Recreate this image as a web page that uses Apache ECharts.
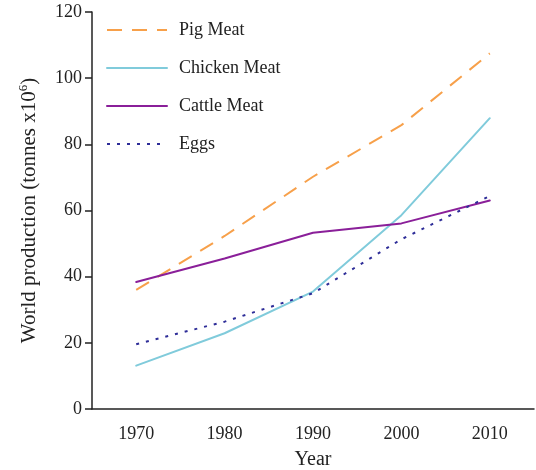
<!DOCTYPE html>
<html>
<head>
<meta charset="utf-8">
<script src="https://cdn.jsdelivr.net/npm/echarts@6/dist/echarts.min.js"></script>
<style>
  html, body { margin: 0; padding: 0; background: #fff; }
  #chart { width: 536px; height: 470px; }
</style>
</head>
<body>
<div id="chart"></div>
<script>
// data
const years = ['1970', '1980', '1990', '2000', '2010']
const pigMeat = [36, 52.3, 70.2, 85.8, 107.5]
const chickenMeat = [13.1, 22.9, 35.5, 58.6, 87.9]
const cattleMeat = [38.4, 45.5, 53.3, 56.1, 63]
const eggs = [19.6, 26.4, 35, 51.3, 64.4]

const font = '"Liberation Serif", "DejaVu Serif", serif'
const ink = '#222'

const chart = echarts.init(document.getElementById('chart'))

const lineSeries = (name, data, color, type, cap) => ({
  name,
  type: 'line',
  data,
  symbol: 'none',
  lineStyle: { color, width: 2, type, cap },
  itemStyle: { color }
})

chart.setOption({
  animation: false,
  textStyle: { fontFamily: font },
  grid: { left: 92, right: 2, top: 12, bottom: 61, outerBoundsMode: 'none' },
  legend: {
    orient: 'vertical',
    left: 106,
    top: 21,
    padding: 0,
    itemWidth: 60,
    itemHeight: 18,
    itemGap: 20,
    itemStyle: { opacity: 0 },
    textStyle: { fontFamily: font, fontSize: 18, color: ink, padding: [0, 0, 0, 7] },
    data: ['Pig Meat', 'Chicken Meat', 'Cattle Meat', 'Eggs']
  },
  xAxis: {
    type: 'category',
    data: years,
    boundaryGap: true,
    name: 'Year',
    nameLocation: 'middle',
    nameGap: 41,
    nameTextStyle: { fontFamily: font, fontSize: 20, color: ink },
    axisLine: { lineStyle: { color: ink, width: 1.5 } },
    axisTick: { length: 7, lineStyle: { color: ink, width: 1.5 } },
    axisLabel: { fontFamily: font, fontSize: 18, color: ink, margin: 16 },
    splitLine: { show: false }
  },
  yAxis: {
    type: 'value',
    min: 0,
    max: 120,
    interval: 20,
    name: '{t|World production (tonnes x10}{s|6}{t|)}',
    nameLocation: 'middle',
    nameGap: 50,
    nameTextStyle: {
      rich: {
        t: { fontFamily: font, fontSize: 21, color: ink },
        s: { fontFamily: font, fontSize: 13, color: ink, verticalAlign: 'top', padding: [0, 0, 12, 0] }
      }
    },
    axisLine: { show: true, lineStyle: { color: ink, width: 1.5 } },
    axisTick: { show: true, length: 7, lineStyle: { color: ink, width: 1.5 } },
    axisLabel: { fontFamily: font, fontSize: 18, color: ink, margin: 10 },
    splitLine: { show: false }
  },
  series: [
    lineSeries('Pig Meat', pigMeat, '#f7a04a', [15, 10], 'butt'),
    lineSeries('Chicken Meat', chickenMeat, '#80cbdb', 'solid', 'round'),
    lineSeries('Cattle Meat', cattleMeat, '#8a1f99', 'solid', 'round'),
    lineSeries('Eggs', eggs, '#2e2d98', [3, 7], 'butt')
  ]
})
</script>
</body>
</html>
